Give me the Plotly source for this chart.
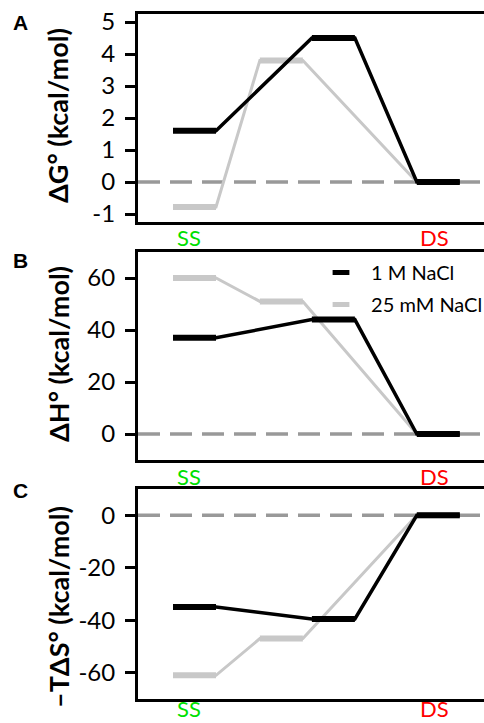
import plotly.graph_objects as go

# ---- data ----
stage_labels = ["SS", "DS"]
stage_label_colors = ["#00e000", "#ff0000"]
stage_label_pos = [0.37, 6.07]   # x positions of the SS / DS labels
pos_1M = [0.0, 3.23, 5.67]      # reaction-coordinate position of each level (1 M NaCl)
pos_25mM = [0.0, 2.02, 5.67]    # reaction-coordinate position of each level (25 mM NaCl)
level_width = 1.0

dG_1M = [1.6, 4.5, 0.0]
dG_25mM = [-0.78, 3.8, 0.0]
dH_1M = [37, 44, 0]
dH_25mM = [60, 51, 0]
mTdS_1M = [-35, -39.5, 0]
mTdS_25mM = [-61, -47, 0]

A_ticks = [-1, 0, 1, 2, 3, 4, 5]
B_ticks = [0, 20, 40, 60]
C_ticks = [-60, -40, -20, 0]

# ---- style ----
W, H = 484, 723
BLACK = "#000000"
GRAY = "#c8c8c8"
TICKFONT = dict(family="Lato", size=24, color="black")
TITLEFONT = dict(family="Lato", size=27, color="black")


def path(pos, vals):
    xs, ys = [], []
    for p, v in zip(pos, vals):
        xs += [p, p + level_width]
        ys += [v, v]
    return xs, ys


def levels(pos, vals):
    xs, ys = [], []
    for p, v in zip(pos, vals):
        xs += [p, p + level_width, None]
        ys += [v, v, None]
    return xs, ys


def px_to_paper_y(py):
    return 1 - py / H


panels = [
    # (1M, 25mM, yrange, ticks, title, letter, top px, bottom px, letter y, title y, label y)
    (dG_1M, dG_25mM, [-1.25, 5.25], A_ticks, "ΔG° (kcal/mol)", "A", 14, 222, 22, 116, 238),
    (dH_1M, dH_25mM, [-10, 70], B_ticks, "ΔH° (kcal/mol)", "B", 252, 460, 260, 354, 476),
    (mTdS_1M, mTdS_25mM, [-70, 10], C_ticks, "–TΔS° (kcal/mol)", "C", 489, 699, 490, 607, 708),
]

fig = go.Figure()
x_left_px = 138
x_range = [(x_left_px - 173) / 43.0, (W - 173) / 43.0]
annotations = []
shapes = []

for i, (v1, v25, yr, ticks, title, letter, top, bot, let_y, tit_y, lab_y) in enumerate(panels):
    n = "" if i == 0 else str(i + 1)
    xa, ya = "x" + n, "y" + n
    for pos, vals, col, thin in [(pos_25mM, v25, GRAY, 3), (pos_1M, v1, BLACK, 3.5)]:
        xs, ys = path(pos, vals)
        fig.add_trace(go.Scatter(x=xs, y=ys, mode="lines", line=dict(color=col, width=thin),
                                 xaxis=xa, yaxis=ya, showlegend=False, hoverinfo="skip"))
        xs, ys = levels(pos, vals)
        fig.add_trace(go.Scatter(x=xs, y=ys, mode="lines", line=dict(color=col, width=6),
                                 xaxis=xa, yaxis=ya, showlegend=False, hoverinfo="skip",
                                 connectgaps=False))
    dom = [px_to_paper_y(bot), px_to_paper_y(top)]
    fig.update_layout({
        "xaxis" + n: dict(domain=[x_left_px / W, 1], range=x_range, showline=True, mirror=True,
                          linecolor="black", linewidth=3, showgrid=False, zeroline=False,
                          ticks="", showticklabels=False, automargin=False, anchor=ya),
        "yaxis" + n: dict(domain=dom, range=yr, showline=True, mirror=False, linecolor="black",
                          linewidth=3, showgrid=False, zeroline=False, ticks="outside",
                          ticklen=10, tickwidth=3, tickcolor="black", tickvals=ticks,
                          ticktext=[str(t) for t in ticks], tickfont=TICKFONT,
                          ticklabelstandoff=5, anchor=xa, automargin=False),
    })
    shapes.append(dict(type="line", xref=xa + " domain", x0=0, x1=1, yref=ya, y0=0, y1=0,
                       line=dict(color="#999999", width=3.5, dash="22px,10px"), layer="below"))
    annotations.append(dict(text="<b>" + letter + "</b>", xref="paper", yref="paper",
                            x=20.5 / W, y=px_to_paper_y(let_y), xanchor="center", yanchor="middle",
                            showarrow=False, font=dict(family="Liberation Sans", size=21, color="black")))
    annotations.append(dict(text="<b>" + title + "</b>", xref="paper", yref="paper",
                            x=58 / W, y=px_to_paper_y(tit_y), xanchor="center", yanchor="middle",
                            textangle=-90, showarrow=False, font=TITLEFONT))
    for lab, col, xp in zip(stage_labels, stage_label_colors, stage_label_pos):
        annotations.append(dict(text=lab, xref=xa, yref="paper", x=xp,
                                y=px_to_paper_y(lab_y), xanchor="center", yanchor="middle",
                                showarrow=False, font=dict(family="Lato", size=22, color=col)))

# legend entries
for name, col in [("1 M NaCl", BLACK), ("25 mM NaCl", GRAY)]:
    fig.add_trace(go.Scatter(x=[None], y=[None], mode="markers", name="\u00a0" + name,
                             marker=dict(symbol="line-ew", size=12, line=dict(color=col, width=6)),
                             xaxis="x2", yaxis="y2", legendgroup=name))

fig.update_layout(
    width=W, height=H, margin=dict(l=0, r=0, t=0, b=0, autoexpand=False),
    plot_bgcolor="white", paper_bgcolor="white",
    shapes=shapes, annotations=annotations,
    showlegend=True,
    legend=dict(x=316 / W, y=px_to_paper_y(253), xanchor="left", yanchor="top",
                bgcolor="rgba(0,0,0,0)", font=dict(family="Lato", size=20, color="black"),
                itemwidth=40, tracegroupgap=3),
)

fig.write_html("out.html")
